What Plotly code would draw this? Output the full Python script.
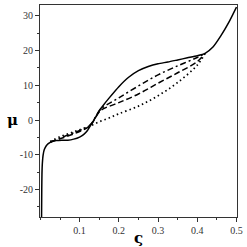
import plotly.graph_objects as go

# solid curve
x_solid = [0.0030, 0.0035, 0.0040, 0.0050, 0.0070, 0.010, 0.015, 0.020, 0.025, 0.030, 0.040,
           0.055, 0.070, 0.085, 0.100, 0.110, 0.120, 0.130, 0.140, 0.150, 0.160, 0.175,
           0.200, 0.225, 0.250, 0.275, 0.300, 0.325, 0.350, 0.375, 0.400, 0.420, 0.440,
           0.460, 0.480, 0.500]
y_solid = [-27.9, -20.0, -15.5, -12.5, -10.0, -8.5, -7.4, -6.8, -6.4, -6.1, -5.9,
           -5.8, -5.8, -5.5, -4.9, -4.2, -3.0, -1.2, 0.6, 2.7, 4.2, 6.3,
           9.6, 12.3, 14.2, 15.4, 16.2, 16.7, 17.3, 17.9, 18.5, 19.2, 21.0,
           24.2, 28.0, 32.5]

# dash-dot curve
x_dashdot = [0.025, 0.050, 0.075, 0.100, 0.120, 0.130, 0.140, 0.150, 0.160, 0.200,
             0.250, 0.300, 0.350, 0.400, 0.420]
y_dashdot = [-6.4, -5.2, -4.1, -3.0, -2.0, -1.0, 0.8, 2.6, 3.7, 6.4,
             9.8, 13.0, 15.6, 18.0, 19.2]

# dash curve
x_dash = [0.025, 0.050, 0.075, 0.100, 0.120, 0.130, 0.140, 0.150, 0.160, 0.200,
          0.250, 0.300, 0.350, 0.400, 0.420]
y_dash = [-6.4, -5.4, -4.4, -3.3, -2.2, -1.2, 0.6, 2.3, 3.2, 5.0,
          7.5, 10.6, 13.6, 16.8, 19.2]

# dotted curve
x_dot = [0.025, 0.050, 0.075, 0.100, 0.125, 0.150, 0.175, 0.200, 0.250, 0.300,
         0.350, 0.400, 0.420]
y_dot = [-6.2, -4.8, -3.8, -2.8, -1.8, -0.5, 0.6, 1.8, 4.0, 7.0,
         10.8, 15.8, 19.2]

x_ticks = [0.1, 0.2, 0.3, 0.4, 0.5]
y_ticks = [-20, -10, 0, 10, 20, 30]

fig = go.Figure()
fig.add_trace(go.Scatter(x=x_dot, y=y_dot, mode="lines", line=dict(color="black", width=1.7, dash="1.5px,3px", shape="spline")))
fig.add_trace(go.Scatter(x=x_dash, y=y_dash, mode="lines", line=dict(color="black", width=1.5, dash="6px,3px", shape="spline")))
fig.add_trace(go.Scatter(x=x_dashdot, y=y_dashdot, mode="lines", line=dict(color="black", width=1.5, dash="6px,3px,2px,3px", shape="spline")))
fig.add_trace(go.Scatter(x=x_solid, y=y_solid, mode="lines", line=dict(color="black", width=1.5, shape="spline", smoothing=0.6)))

tickfont = dict(family="Liberation Serif, DejaVu Serif, serif", size=10, color="#333333")
fig.update_xaxes(range=[-0.001, 0.5013], tickvals=x_ticks, ticktext=[str(v) for v in x_ticks],
                 ticks="outside", ticklen=4, tickcolor="#333", showline=True, linecolor="#333",
                 linewidth=1, mirror=True, showgrid=False, zeroline=False, tickfont=tickfont,
                 minor=dict(dtick=0.05, ticks="outside", ticklen=2, tickcolor="#333"))
fig.update_yaxes(range=[-27.9, 33.1], tickvals=y_ticks, ticktext=[str(v) for v in y_ticks],
                 ticks="outside", ticklen=4, tickcolor="#333", showline=True, linecolor="#333",
                 linewidth=1, mirror=True, showgrid=False, zeroline=False, tickfont=tickfont,
                 minor=dict(dtick=5, ticks="outside", ticklen=2, tickcolor="#333"))

fig.add_annotation(text="<b>μ</b>", xref="paper", yref="paper", x=-0.14, y=1 - (119.5 - 4) / 213,
                   showarrow=False, font=dict(family="DejaVu Serif, serif", size=15, color="black"),
                   xanchor="center", yanchor="middle")
fig.add_annotation(text="<b>ς</b>", xref="paper", yref="paper", x=0.5, y=-0.1,
                   showarrow=False, font=dict(family="DejaVu Serif, serif", size=15, color="black"),
                   xanchor="center", yanchor="middle")

fig.update_layout(width=247, height=247, margin=dict(l=40, r=8, t=4, b=30),
                  plot_bgcolor="white", paper_bgcolor="white", showlegend=False)
fig.write_html("out.html", config={"displayModeBar": False},
               post_script="document.body.style.margin='0';document.body.style.overflow='hidden';")
